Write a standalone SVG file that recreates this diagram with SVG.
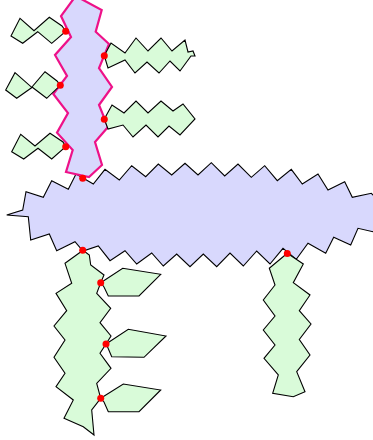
<svg xmlns="http://www.w3.org/2000/svg" width="373" height="440" viewBox="0 0 373 440">
<style>
.blue{fill:#d8d8fd;stroke:#000;stroke-width:1.1;stroke-linejoin:miter}
.green{fill:#d9fbd9;stroke:#000;stroke-width:1.1}
.pink{fill:#d8d8fd;stroke:#ee1188;stroke-width:2.2}
.dot{fill:#ff0000}
</style>
<rect width="373" height="440" fill="#fff"/>
<g id="body">
<polygon class="blue" points="6.7,215 22.7,210 26,191.7 43.3,197.3 51.7,180.7 68.3,189.3 76,174 83,178 93.3,184 105,169.3 119.3,180 131.7,165.7 145.7,176.7 158.3,164 171.7,175 185,163.3 198,175 211.3,162.7 224.7,176 238,164 251.3,177.3 264.7,165.7 277.3,180.7 291.3,169.3 302.3,184 318,174 328,190 344.7,181.7 352.3,197.3 371.3,193.3 390,212 373,231.7 358,228.3 350.7,245 333.7,237.3 325.7,253.3 308,243.3 296.3,259.3 283,248.3 270,264 256.7,251 243.3,266 230,253 216.7,266.7 203.3,254 190,266.7 176.7,254 163.3,266 151.7,253 136.7,264 125,250.7 110,260.7 98.3,246 83,251 75,241.7 56.7,250.7 49.3,234 30.7,240 28.3,216.7"/>
</g>
<g id="neck">
<polygon class="pink" points="75.7,-4 101.7,10 95.7,31.7 109,44 99,68 112,87 99,105 108,127 95,142 102,165 89,177 66,172 72.7,150 57,132.7 68,113 53.3,94 67,76 55,55 71,37 61,16"/>
</g>
<g id="left1"><polygon class="green" points="11,36 20,18.3 34,30.7 49.3,17.3 62,26 65.7,31.3 51.7,43.3 37.7,31.7 22.7,43.3"/></g>
<g id="left2"><polygon class="green" points="5.7,90 15,72.7 31.7,87.3 45,71.7 57,81 60.3,85.3 46.7,98.3 32.3,87.3 16.7,98.3"/></g>
<g id="left3"><polygon class="green" points="11.7,151.7 20.7,134.3 35,146 50,133.3 63,142 65.7,146.7 51.7,159 38,148.3 23.7,159"/></g>
<g id="right1"><polygon class="green" points="104.3,55.7 111,43 125,53 136,38 148,51 161,38 172,51 185,40 188,52 193,51 195,56 191,56 180,71 170,61 159,73 147,62 135,73 125,60 108,68"/></g>
<g id="right2"><polygon class="green" points="104.3,119 112,105 124,113 136,101 148,113 161,101 173,111 183,104 195,119 180,135 169,126 158,137 146,125 133,137 123,125 108,129"/></g>
<g id="legLeft"><polygon class="green" points="83,250.3 89.3,255 90.7,265 104,275 100.7,282.7 96.7,293.3 110.7,308.3 100,322.7 111,336 106,344 100,353.3 111,368.3 96.7,383.3 100.7,398.3 91.7,410 94,435 83.3,426.7 64,418.3 73.3,400 56,386.7 65,373.3 54,357.3 65,340 54,326 66.7,310.7 56,293.3 71.7,283.3 65,263.3"/></g>
<g id="leaf1"><polygon class="green" points="100.7,282.7 122.7,268.3 160.7,274.3 139,296 108.3,296 104,287"/></g>
<g id="leaf2"><polygon class="green" points="106,344 128.3,329.3 166,336 144,357.3 111.7,356.7 108,348"/></g>
<g id="leaf3"><polygon class="green" points="100.7,398.3 123.3,384 160.7,390 139,411.7 108.3,411.7 104,402"/></g>
<g id="legRight"><polygon class="green" points="287.3,253.3 303.3,264 293.3,282.7 310,295 299.3,310.7 311,324 299.3,339.5 310,355 296.7,371.7 305,391.7 293.3,396.7 272.7,393.3 278.3,375 264,358.3 275,345 263.3,330 275,316 263.3,300 275,285 269.3,268.3"/></g>
<g id="joints">
<circle class="dot" cx="65.7" cy="31.3" r="3.5"/>
<circle class="dot" cx="60.3" cy="85.3" r="3.5"/>
<circle class="dot" cx="65.7" cy="146.7" r="3.5"/>
<circle class="dot" cx="104.3" cy="55.7" r="3.5"/>
<circle class="dot" cx="104.3" cy="119.3" r="3.5"/>
<circle class="dot" cx="82.7" cy="178.3" r="3.5"/>
<circle class="dot" cx="82.7" cy="250.3" r="3.5"/>
<circle class="dot" cx="287.3" cy="253.5" r="3.5"/>
<circle class="dot" cx="100.7" cy="282.7" r="3.5"/>
<circle class="dot" cx="106" cy="344" r="3.5"/>
<circle class="dot" cx="100.7" cy="398.3" r="3.5"/>
</g>
</svg>
